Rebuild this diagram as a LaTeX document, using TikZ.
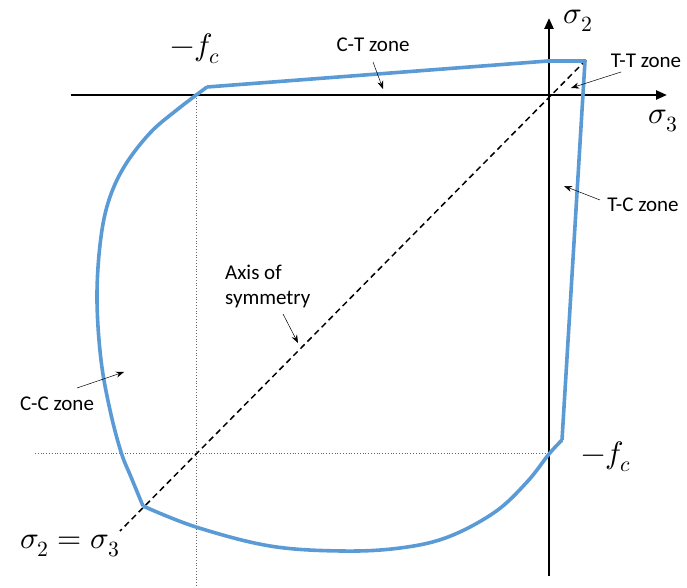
\documentclass[tikz,border=0pt]{standalone}
\usepackage{fontspec}
\usepackage{unicode-math}
\setmainfont{Carlito}
\setmathfont{Latin Modern Math}
\usetikzlibrary{arrows.meta}
\definecolor{curveblue}{RGB}{91,155,213}
\tikzset{
  axisline/.style={line width=2.4pt,-{Triangle[length=11pt,width=9pt]}},
  envelope/.style={curveblue,line width=3.6pt,line join=round},
  symline/.style={line width=1.5pt,dash pattern=on 6pt off 4pt},
  guide/.style={gray!80!black,line width=0.8pt,dotted},
  pointer/.style={line width=0.5pt,-{Stealth[length=8pt,width=6pt]}},
  zonelabel/.style={font=\fontsize{21}{25}\selectfont,inner sep=0pt},
  mathlabel/.style={font=\fontsize{31}{35}\selectfont,inner sep=0pt},
}
\begin{document}
\begin{tikzpicture}[x=1pt,y=-1pt]
\useasboundingbox (0,0) rectangle (687,588);
% guides
\coordinate (vdT) at (196,95);
\coordinate (vdB) at (196,588);
\coordinate (hdL) at (35,453);
\coordinate (hdR) at (550,453);
\draw[guide] (vdT) -- (vdB);
\draw[guide] (hdL) -- (hdR);
% axes
\coordinate (xL) at (71,95);
\coordinate (xR) at (667,95);
\coordinate (yB) at (549,576);
\coordinate (yT) at (549,18);
\draw[axisline] (xL) -- (xR);
\draw[axisline] (yB) -- (yT);
% symmetry axis
\coordinate (sA) at (586,60);
\coordinate (sB) at (120,531);
\draw[symline] (sA) -- (sB);
% failure envelope
\draw[envelope] (207,87) -- (548,61) -- (585,61) -- (562,440)
  plot[smooth,tension=0.6] coordinates {(562,440) (549,454) (527,482) (495,512) (448,537) (400,548) (342,551) (270,546) (196,527) (143,506)}
  plot[smooth,tension=0.6] coordinates {(143,506) (131,477) (121,452) (110,410) (101,360) (97,300) (100,245) (108,203) (124,167) (150,133) (178,109) (207,87)};
% labels
\node[mathlabel] (s2) at (578,21) {$\sigma_2$};
\node[mathlabel] (s3) at (663,121) {$\sigma_3$};
\node[mathlabel] (fcT) at (195,49) {$-f_c$};
\node[mathlabel] (fcR) at (606,457) {$-f_c$};
\node[mathlabel] (eq) at (70,546) {$\sigma_2=\sigma_3$};
\node[zonelabel] (ct) at (373,45) {C-T zone};
\node[zonelabel] (tt) at (646,61) {T-T zone};
\node[zonelabel] (tc) at (643,205) {T-C zone};
\node[zonelabel] (cc) at (57,404) {C-C zone};
\node[zonelabel,align=left,anchor=west] (ax) at (225,286) {Axis of\\symmetry};
% pointers
\coordinate (ctP) at (383,89);
\coordinate (ttP) at (571,88);
\coordinate (tcP) at (564,186);
\coordinate (ccP) at (124,372);
\coordinate (axP) at (298,343);
\draw[pointer] (373,62) -- (ctP);
\draw[pointer] (621,72) -- (ttP);
\draw[pointer] (600,200) -- (tcP);
\draw[pointer] (77,388) -- (ccP);
\draw[pointer] (283,314) -- (axP);
\end{tikzpicture}
\end{document}
